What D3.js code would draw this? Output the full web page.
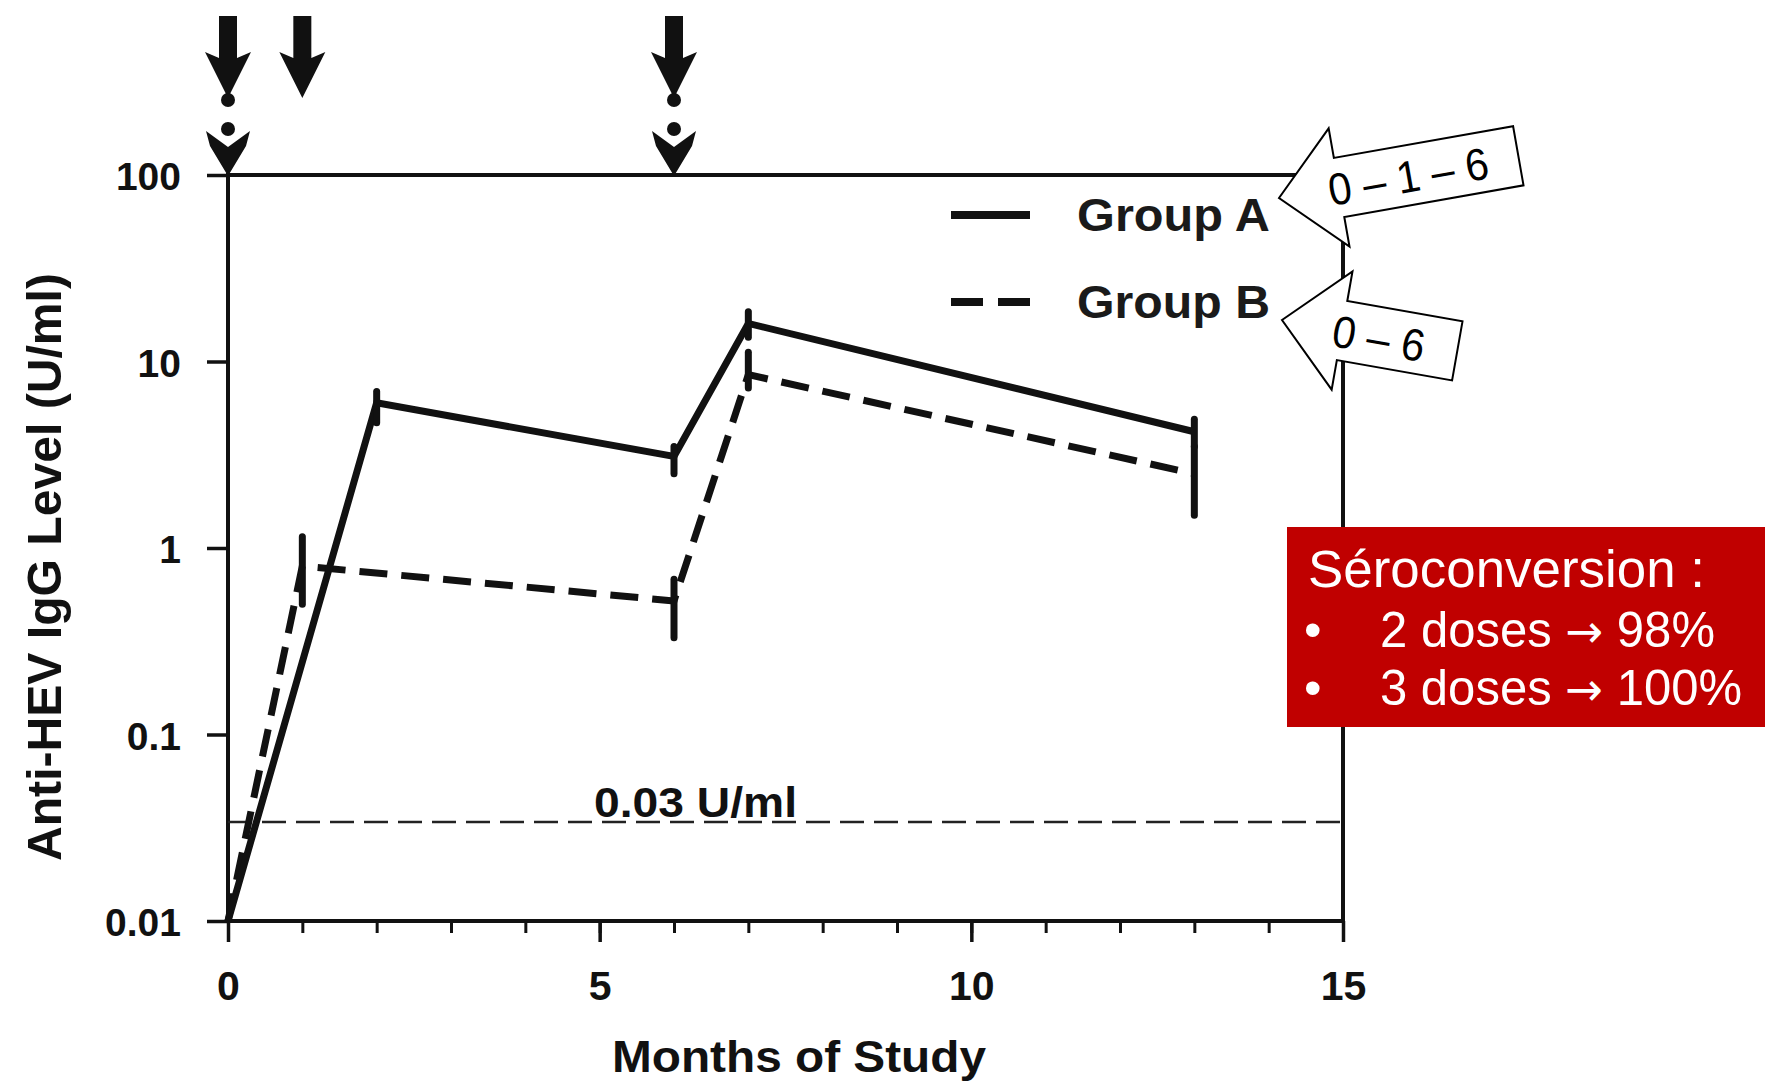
<!DOCTYPE html>
<html><head><meta charset="utf-8">
<script src="https://cdn.jsdelivr.net/npm/d3@7"></script>
<style>html,body{margin:0;padding:0;background:#fff}svg{display:block}</style>
</head><body><svg id="c" width="1765" height="1081"></svg>
<script>
// ---------- data ----------
const seriesNames = ["Group A", "Group B"];
const monthsA   = [0, 2, 6, 7, 13];
const valuesA   = [0.01, 6.0, 3.1, 16, 4.2];
const errLowA   = [null, 4.7, 2.5, 13.5, 3.5];
const errHighA  = [null, 6.9, 3.5, 18.5, 4.9];
const monthsB   = [0, 1, 6, 7, 13];
const valuesB   = [0.01, 0.8, 0.52, 8.5, 2.5];
const errLowB   = [null, 0.5, 0.33, 7.2, 1.5];
const errHighB  = [null, 1.15, 0.68, 11.2, 3.5];
const doseMonthsA = [0, 1, 6];
const doseMonthsB = [0, 6];
const cutoffValue = 0.034;
const cutoffLabel = "0.03 U/ml";
const yTickValues = [0.01, 0.1, 1, 10, 100];
const yTickLabels = ["0.01", "0.1", "1", "10", "100"];
const xTickValues = [0, 5, 10, 15];
const xMinorTicks = [0,1,2,3,4,5,6,7,8,9,10,11,12,13,14,15];
const xTitle = "Months of Study";
const yTitle = "Anti-HEV IgG Level (U/ml)";
const scheduleLabels = ["0 \u2013 1 \u2013 6", "0 \u2013 6"];
const boxTitle = "S\u00e9roconversion :";
const boxItems = [["2 doses", "98%"], ["3 doses", "100%"]];

// ---------- layout ----------
const svg = d3.select("#c");
const FONT = "'Liberation Sans', Arial, Helvetica, sans-serif";
const INK = "#111";
const x = d3.scaleLinear().domain([0, 15]).range([228, 1343]);
const y = d3.scaleLog().domain([0.01, 100]).range([921, 175]);

svg.append("rect").attr("width", 1765).attr("height", 1081).attr("fill", "#fff");

// frame
svg.append("rect")
  .attr("x", x(0)).attr("y", y(100))
  .attr("width", x(15) - x(0)).attr("height", y(0.01) - y(100))
  .attr("fill", "none").attr("stroke", INK).attr("stroke-width", 4);

// y axis
const gy = svg.append("g").attr("transform", `translate(${x(0)},0)`)
  .call(d3.axisLeft(y).tickValues(yTickValues)
    .tickFormat((d, i) => yTickLabels[i]).tickSize(21).tickPadding(26));
gy.select(".domain").remove();
gy.selectAll(".tick line").attr("stroke", INK).attr("stroke-width", 3.5);
gy.selectAll(".tick text").attr("font-family", FONT).attr("font-weight", "bold")
  .attr("font-size", 39).attr("fill", INK).attr("dy", "0.38em");

// x axis minor
const gxm = svg.append("g").attr("transform", `translate(0,${y(0.01)})`)
  .call(d3.axisBottom(x).tickValues(xMinorTicks).tickSize(12).tickFormat(""));
gxm.select(".domain").remove();
gxm.selectAll(".tick line").attr("stroke", INK).attr("stroke-width", 3);

// x axis major
const gx = svg.append("g").attr("transform", `translate(0,${y(0.01)})`)
  .call(d3.axisBottom(x).tickValues(xTickValues).tickFormat(d3.format("d"))
    .tickSize(21).tickPadding(29));
gx.select(".domain").remove();
gx.selectAll(".tick line").attr("stroke", INK).attr("stroke-width", 3.5);
gx.selectAll(".tick text").attr("font-family", FONT).attr("font-weight", "bold")
  .attr("font-size", 41).attr("fill", INK);

// axis titles
svg.append("text").text(xTitle)
  .attr("x", 799).attr("y", 1056).attr("text-anchor", "middle")
  .attr("dominant-baseline", "central")
  .attr("font-family", FONT).attr("font-weight", "bold").attr("font-size", 45)
  .attr("fill", INK).attr("textLength", 374).attr("lengthAdjust", "spacingAndGlyphs");
svg.append("text").text(yTitle)
  .attr("transform", "translate(44,567) rotate(-90)")
  .attr("text-anchor", "middle").attr("dominant-baseline", "central")
  .attr("font-family", FONT).attr("font-weight", "bold").attr("font-size", 48)
  .attr("fill", INK).attr("textLength", 588).attr("lengthAdjust", "spacingAndGlyphs");

// cutoff
svg.append("line")
  .attr("x1", x(0)).attr("x2", x(15))
  .attr("y1", y(cutoffValue)).attr("y2", y(cutoffValue))
  .attr("stroke", "#222").attr("stroke-width", 2.5).attr("stroke-dasharray", "24,10");
svg.append("text").text(cutoffLabel)
  .attr("x", 594).attr("y", y(cutoffValue) - 5)
  .attr("font-family", FONT).attr("font-weight", "bold").attr("font-size", 42)
  .attr("fill", INK).attr("textLength", 203).attr("lengthAdjust", "spacingAndGlyphs");

// series
const line = d3.line().x(d => x(d.m)).y(d => y(d.v));
const dataA = monthsA.map((m, i) => ({m, v: valuesA[i], lo: errLowA[i], hi: errHighA[i]}));
const dataB = monthsB.map((m, i) => ({m, v: valuesB[i], lo: errLowB[i], hi: errHighB[i]}));

function drawSeries(data, dash) {
  const g = svg.append("g");
  g.append("path").datum(data).attr("d", line)
    .attr("fill", "none").attr("stroke", INK).attr("stroke-width", 7)
    .attr("stroke-linejoin", "miter").attr("stroke-dasharray", dash);
  g.selectAll("line.err").data(data.filter(d => d.lo != null)).join("line")
    .attr("class", "err")
    .attr("x1", d => x(d.m)).attr("x2", d => x(d.m))
    .attr("y1", d => y(d.hi)).attr("y2", d => y(d.lo))
    .attr("stroke", INK).attr("stroke-width", 7).attr("stroke-linecap", "round");
}
drawSeries(dataB, "28,14");
drawSeries(dataA, null);

// legend
const legY = [215, 302];
svg.append("line").attr("x1", 951).attr("x2", 1030).attr("y1", legY[0]).attr("y2", legY[0])
  .attr("stroke", INK).attr("stroke-width", 8);
svg.append("line").attr("x1", 951).attr("x2", 1030).attr("y1", legY[1]).attr("y2", legY[1])
  .attr("stroke", INK).attr("stroke-width", 8).attr("stroke-dasharray", "32,15");
seriesNames.forEach((n, i) => {
  svg.append("text").text(n).attr("x", 1077).attr("y", legY[i])
    .attr("dominant-baseline", "central")
    .attr("font-family", FONT).attr("font-weight", "bold").attr("font-size", 46)
    .attr("fill", "#1a1a1a").attr("textLength", 193).attr("lengthAdjust", "spacingAndGlyphs");
});

// dose arrows (Group A: solid arrows)
doseMonthsA.forEach(m => {
  const cx = x(m);
  svg.append("polygon")
    .attr("points", [[cx-9,16],[cx+9,16],[cx+9,58],[cx+23,52],[cx,98],[cx-23,52],[cx-9,58]].map(p => p.join(",")).join(" "))
    .attr("fill", INK);
});
// dose arrows (Group B: dotted arrows)
doseMonthsB.forEach(m => {
  const cx = x(m);
  svg.append("circle").attr("cx", cx).attr("cy", 100).attr("r", 7).attr("fill", INK);
  svg.append("circle").attr("cx", cx).attr("cy", 129).attr("r", 7).attr("fill", INK);
  svg.append("polygon")
    .attr("points", [[cx-22,131],[cx,147],[cx+22,131],[cx+18,146],[cx,176],[cx-18,146]].map(p => p.join(",")).join(" "))
    .attr("fill", INK);
});

// callout block arrows
const callouts = [
  {tip: [1279, 198], angle: -10, len: 243, text: scheduleLabels[0], tx: 50, tw: 162},
  {tip: [1282, 320], angle: 10, len: 178, text: scheduleLabels[1], tx: 52, tw: 93}
];
callouts.forEach(c => {
  const g = svg.append("g").attr("transform", `translate(${c.tip[0]},${c.tip[1]}) rotate(${c.angle})`);
  const pts = [[0,0],[61,-60],[61,-30],[c.len,-30],[c.len,30],[61,30],[61,60]];
  g.append("polygon").attr("points", pts.map(p => p.join(",")).join(" "))
    .attr("fill", "#fff").attr("stroke", "#000").attr("stroke-width", 2);
  g.append("text").text(c.text).attr("x", c.tx).attr("y", 17)
    .attr("font-family", FONT).attr("font-size", 45).attr("fill", "#000")
    .attr("textLength", c.tw).attr("lengthAdjust", "spacingAndGlyphs");
});

// red box
svg.append("rect").attr("x", 1287).attr("y", 527).attr("width", 478).attr("height", 200)
  .attr("fill", "#C00000");
svg.append("text").text(boxTitle).attr("x", 1308).attr("y", 587)
  .attr("font-family", FONT).attr("font-size", 51).attr("fill", "#fff")
  .attr("textLength", 397).attr("lengthAdjust", "spacingAndGlyphs");
const itemY = [647, 705];
const itemW = [335, 362];
boxItems.forEach((it, i) => {
  svg.append("text").text("\u2022").attr("x", 1304).attr("y", itemY[i])
    .attr("font-family", FONT).attr("font-size", 50).attr("fill", "#fff");
  const t = svg.append("text").attr("x", 1380).attr("y", itemY[i])
    .attr("font-family", FONT).attr("font-size", 50).attr("fill", "#fff")
    .attr("textLength", itemW[i]).attr("lengthAdjust", "spacingAndGlyphs");
  t.append("tspan").text(it[0] + " ");
  t.append("tspan").text("\u2192").attr("font-family", "'DejaVu Sans', sans-serif").attr("font-size", 46);
  t.append("tspan").text(" " + it[1]);
});
</script>
</body></html>
